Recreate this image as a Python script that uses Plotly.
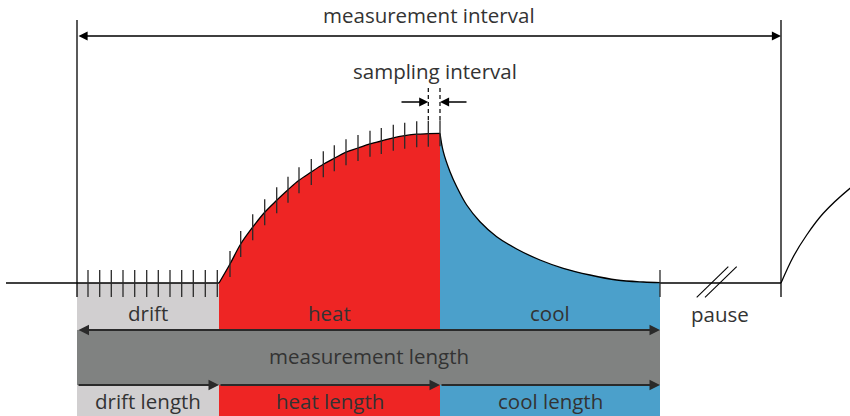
import plotly.graph_objects as go

# ---- data (time on x, signal on y; baseline = 0) ----
phase_names = ["drift", "heat", "cool"]
length_names = ["drift length", "heat length", "cool length"]
phase_bounds = [77, 219, 440, 660]          # drift start, heat start, cool start, cool end
interval_end = 781                           # start of next measurement
drift_ticks = [88, 99.7, 111.3, 123, 134.7, 146.7, 158.3, 170, 181.7, 193.3, 205.3, 217.3]
heat_t = [219, 230, 240.7, 252.7, 264.7, 276.7, 288, 299, 311.3, 323.3, 334.3, 346,
          358, 370, 381.3, 393.3, 404.7, 416.7, 428.3, 440]
heat_T = [0, 19, 39, 55.8, 70.7, 82.7, 93.3, 102.7, 111, 118.7, 124.7, 130.8,
          135, 139.2, 142, 145.2, 147.3, 148.8, 149.3, 149.7]
cool_t = [440, 443.3, 450, 456.7, 466.7, 480, 496.7, 516.7, 540, 563.3, 590, 616.7, 643.3, 660]
cool_T = [149.7, 131.3, 111.3, 96.3, 78, 61.3, 46.3, 34, 23, 14.7, 8, 3, 1, 0.4]
next_t = [781, 793.3, 806.7, 823.3, 850, 860]
next_T = [0, 26.3, 48, 69.7, 94.7, 102]

RED = "#EE2524"
BLUE = "#4BA0CB"
LGRAY = "#D1CFD0"
DGRAY = "#808281"
TXT = "#333333"
FONT = "Open Sans"

x0, x1, x2, x3 = phase_bounds
TOP = 283      # y-range top
BOT = -133     # y-range bottom
ROW1 = -47
ROW2 = -102

fig = go.Figure()

# ---- blocks below baseline ----
shapes = [
    dict(type="rect", x0=x0, x1=x1, y0=ROW1, y1=0, fillcolor=LGRAY, line_width=0, layer="below"),
    dict(type="rect", x0=x0, x1=x1, y0=BOT, y1=ROW2, fillcolor=LGRAY, line_width=0, layer="below"),
    dict(type="rect", x0=x1, x1=x2, y0=BOT, y1=0, fillcolor=RED, line_width=0, layer="below"),
    dict(type="rect", x0=x2, x1=x3, y0=BOT, y1=0, fillcolor=BLUE, line_width=0, layer="below"),
    dict(type="rect", x0=x0, x1=x3, y0=ROW2, y1=ROW1, fillcolor=DGRAY, line_width=0, layer="below"),
]

# ---- curve fills ----
fig.add_trace(go.Scatter(x=heat_t, y=heat_T, mode="lines", line=dict(color="black", width=1.3, shape="spline"),
                         fill="tozeroy", fillcolor=RED, hoverinfo="skip"))
fig.add_trace(go.Scatter(x=cool_t, y=cool_T, mode="lines", line=dict(color="black", width=1.3, shape="spline"),
                         fill="tozeroy", fillcolor=BLUE, hoverinfo="skip"))

# ---- baseline ----
fig.add_trace(go.Scatter(x=[6, x1, None, x3, interval_end], y=[0, 0, None, 0, 0], mode="lines",
                         line=dict(color="black", width=1.3), hoverinfo="skip"))
fig.add_trace(go.Scatter(x=next_t, y=next_T, mode="lines", line=dict(color="black", width=1.3, shape="spline"),
                         hoverinfo="skip"))

# ---- sampling ticks ----
tx, ty = [], []
for t in drift_ticks:
    tx += [t, t, None]; ty += [-14, 13, None]
for t, v in zip(heat_t[1:], heat_T[1:]):
    tx += [t, t, None]; ty += [v - 13, v + 13, None]
tx += [x3, x3, None]; ty += [-14, 13, None]
fig.add_trace(go.Scatter(x=tx, y=ty, mode="lines", line=dict(color="#2a2a2a", width=1.3), hoverinfo="skip"))

# interval verticals
fig.add_trace(go.Scatter(x=[x0, x0, None, interval_end, interval_end], y=[-14, 263, None, -14, 263],
                         mode="lines", line=dict(color="black", width=1.3), hoverinfo="skip"))

# dashed sampling guides
fig.add_trace(go.Scatter(x=[heat_t[-2], heat_t[-2], None, heat_t[-1], heat_t[-1]],
                         y=[163, 196, None, 163, 196], mode="lines",
                         line=dict(color="black", width=1.2, dash="4px,3px"), hoverinfo="skip"))

# pause break mark
fig.add_trace(go.Scatter(x=[696.7, 728.3, None, 705, 736.7], y=[-14.3, 16.3, None, -14.3, 16.3],
                         mode="lines", line=dict(color="black", width=1.1), hoverinfo="skip"))

ann = []
def arrow(xh, yh, xt, yt, both=False, width=1.3, color="black", size=1.4):
    ann.append(dict(x=xh, y=yh, ax=xt, ay=yt, xref="x", yref="y", axref="x", ayref="y",
                    text="", showarrow=True, arrowhead=2, arrowsize=size, arrowwidth=width,
                    arrowcolor=color, arrowside="end+start" if both else "end", standoff=0, startstandoff=0))

def label(x, y, s):
    ann.append(dict(x=x, y=y, xref="x", yref="y", text=s, showarrow=False,
                    font=dict(family=FONT, size=20.5, color=TXT), xanchor="center", yanchor="middle"))

arrow(interval_end, 247, x0, 247, both=True)
arrow(heat_t[-2], 181, 400, 181)
arrow(heat_t[-1], 181, 468, 181)
arrow(x3, ROW1, x0, ROW1, both=True, width=2, color="#2a2a2a", size=1.05)
arrow(x1, ROW2, x0, ROW2, width=2, color="#2a2a2a", size=1.05)
arrow(x2, ROW2, x1, ROW2, width=2, color="#2a2a2a", size=1.05)
arrow(x3, ROW2, x2, ROW2, width=2, color="#2a2a2a", size=1.05)

label(429, 283 - 15, "measurement interval")
label(434.5, 283 - 71, "sampling interval")
for (a, b), n in zip(zip(phase_bounds[:-1], phase_bounds[1:]), phase_names):
    label((a + b) / 2, 283 - 313, n)
label(720, 283 - 314, "pause")
label((x0 + x3) / 2, 283 - 356, "measurement length")
for (a, b), n in zip(zip(phase_bounds[:-1], phase_bounds[1:]), length_names):
    label((a + b) / 2, 283 - 401, n)

fig.update_layout(
    width=850, height=416, margin=dict(l=0, r=0, t=0, b=0),
    plot_bgcolor="white", paper_bgcolor="white", showlegend=False,
    xaxis=dict(range=[0, 850], visible=False, fixedrange=True),
    yaxis=dict(range=[BOT, TOP], visible=False, fixedrange=True),
    shapes=shapes, annotations=ann,
)
fig.write_html("out.html", config={"displayModeBar": False},
               post_script="document.body.style.margin='0';document.body.style.overflow='hidden';")
